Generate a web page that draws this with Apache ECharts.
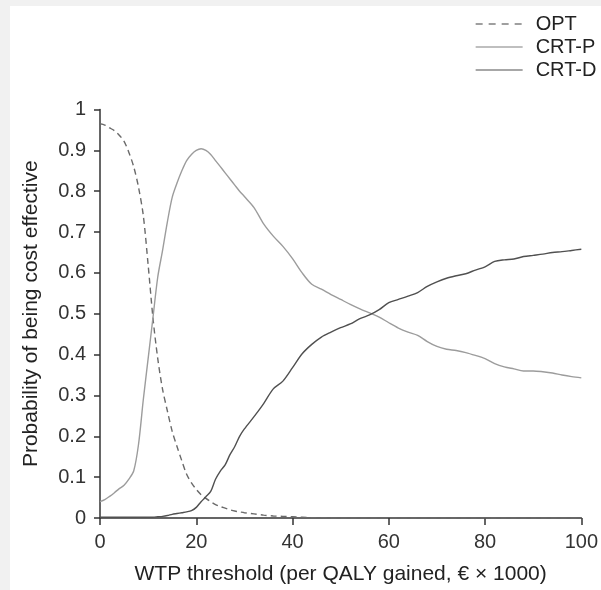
<!DOCTYPE html>
<html>
<head>
<meta charset="utf-8">
<script src="https://cdn.jsdelivr.net/npm/echarts@6/dist/echarts.min.js"></script>
<style>
html,body{margin:0;padding:0;background:#f1f1f1;}
#c{width:601px;height:590px;}
</style>
</head>
<body>
<div id="c"></div>
<script>
const xs = [0,1,2,3,4,5,6,7,8,9,10,11,12,13,14,15,16,17,18,19,20,21,22,23,24,25,26,27,28,29,30,
  32,34,36,38,40,42,44,46,48,50,52,54,56,58,60,62,64,66,68,70,72,74,76,78,80,82,84,86,88,90,92,94,96,98,100];
const opt = [0.965,0.962,0.955,0.948,0.937,0.922,0.895,0.86,0.81,0.74,0.62,0.49,0.39,0.315,0.262,0.212,0.175,0.14,0.107,0.086,0.07,0.057,0.048,0.04,0.033,0.028,0.024,0.02,0.017,0.015,0.013,
  0.01,0.007,0.005,0.004,0.003,0.002,0.001,0.001,0,0,0,0,0,0,0,0,0,0,0,0,0,0,0,0,0,0,0,0,0,0,0,0,0,0,0];
const crtP = [0.04,0.045,0.053,0.062,0.072,0.08,0.095,0.115,0.18,0.29,0.39,0.49,0.59,0.655,0.725,0.785,0.82,0.85,0.875,0.89,0.9,0.904,0.9,0.89,0.875,0.86,0.845,0.83,0.815,0.8,0.787,
  0.76,0.72,0.69,0.665,0.635,0.6,0.572,0.56,0.547,0.535,0.523,0.512,0.502,0.492,0.478,0.465,0.455,0.447,0.432,0.42,0.413,0.41,0.405,0.398,0.39,0.378,0.37,0.365,0.36,0.36,0.358,0.355,0.35,0.346,0.343];
const crtD = [0.002,0.002,0.002,0.002,0.002,0.002,0.002,0.002,0.002,0.002,0.002,0.002,0.003,0.004,0.006,0.009,0.011,0.013,0.015,0.018,0.026,0.04,0.052,0.065,0.095,0.115,0.13,0.155,0.175,0.2,0.218,
  0.248,0.28,0.316,0.335,0.368,0.402,0.425,0.443,0.455,0.466,0.475,0.488,0.497,0.51,0.527,0.535,0.543,0.552,0.567,0.578,0.587,0.593,0.598,0.607,0.615,0.628,0.632,0.634,0.64,0.643,0.646,0.65,0.652,0.655,0.658];
const names = ['OPT','CRT-P','CRT-D'];
const xTitle = 'WTP threshold (per QALY gained, € × 1000)';
const yTitle = 'Probability of being cost effective';

const pair = arr => xs.map((x,i)=>[x,arr[i]]);
const font = 'Liberation Sans, Arial, sans-serif';
const cOpt = '#6a6a6a', cP = '#9c9c9c', cD = '#505050';
const chart = echarts.init(document.getElementById('c'), null, {renderer:'canvas'});
chart.setOption({
  backgroundColor:'#f1f1f1',
  animation:false,
  graphic:[{type:'rect', z:-10, shape:{x:10,y:6,width:600,height:590}, style:{fill:'#ffffff'}}],
  legend:{
    orient:'vertical', left:475, top:14, padding:0, itemWidth:47, itemHeight:14, itemGap:3,
    itemStyle:{opacity:0},
    textStyle:{fontFamily:font, fontSize:20, color:'#222', padding:[0,0,0,8]},
    data:[
      {name:names[0], lineStyle:{type:[7,6], width:1.3, color:'#808080'}},
      {name:names[1], lineStyle:{width:1.3, color:'#aaa'}},
      {name:names[2], lineStyle:{width:1.3, color:'#8a8a8a'}}
    ]
  },
  grid:{left:100, right:18, top:109.5, bottom:68.3, containLabel:false},
  xAxis:{
    type:'value', min:0, max:100, interval:20,
    name:xTitle, nameLocation:'middle', nameGap:46,
    nameTextStyle:{fontFamily:font, fontSize:21, color:'#222'},
    axisLine:{lineStyle:{color:'#333', width:1.5}},
    axisTick:{length:7, lineStyle:{color:'#333', width:1.5}},
    axisLabel:{fontFamily:font, fontSize:20, color:'#333', margin:14},
    splitLine:{show:false}
  },
  yAxis:{
    type:'value', min:0, max:1, interval:0.1,
    name:yTitle, nameLocation:'middle', nameGap:58, nameRotate:90,
    nameTextStyle:{fontFamily:font, fontSize:21, color:'#222'},
    axisLine:{show:true, lineStyle:{color:'#333', width:1.5}},
    axisTick:{show:true, length:6, lineStyle:{color:'#333', width:1.5}},
    axisLabel:{fontFamily:font, fontSize:20, color:'#333', margin:14, formatter:v=>String(+v.toFixed(1))},
    splitLine:{show:false}
  },
  series:[
    {name:names[0], type:'line', data:pair(opt), symbol:'none', smooth:0.3,
     lineStyle:{color:cOpt, width:1.4, type:[6,4]}, itemStyle:{color:cOpt}},
    {name:names[1], type:'line', data:pair(crtP), symbol:'none', smooth:0.3,
     lineStyle:{color:cP, width:1.4}, itemStyle:{color:cP}},
    {name:names[2], type:'line', data:pair(crtD), symbol:'none', smooth:0.3,
     lineStyle:{color:cD, width:1.4}, itemStyle:{color:cD}}
  ]
});
</script>
</body>
</html>
